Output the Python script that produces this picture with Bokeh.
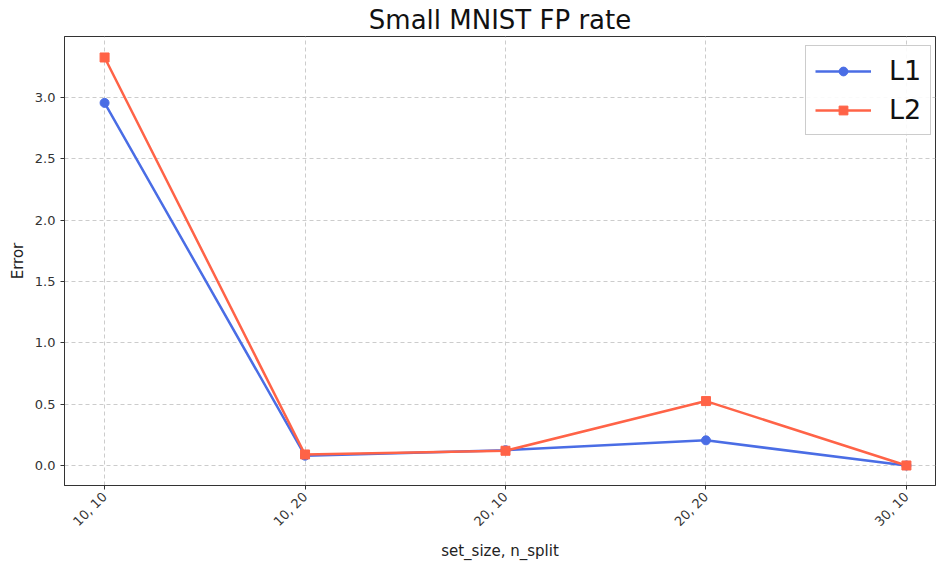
import math
from bokeh.plotting import figure
from bokeh.models import FixedTicker, Legend, LegendItem, Range1d, Title
from bokeh.embed import file_html
from bokeh.resources import INLINE

categories = ["10, 10", "10, 20", "20, 10", "20, 20", "30, 10"]
l1_values = [2.955, 0.08, 0.125, 0.205, 0.0]
l2_values = [3.325, 0.09, 0.12, 0.525, 0.0]
y_ticks = [0.0, 0.5, 1.0, 1.5, 2.0, 2.5, 3.0]

xs = list(range(len(categories)))
FONT = "DejaVu Sans"

p = figure(width=937, height=563, output_backend="svg", toolbar_location=None,
           x_range=Range1d(-0.2, 4.145), y_range=Range1d(-0.163, 3.496),
           min_border_left=64, min_border_right=2, min_border_top=35, min_border_bottom=78)
p.title = Title(text="Small MNIST FP rate", align="center", text_font=FONT,
                text_font_size="26px", text_font_style="normal", text_color="#111111",
                standoff=4)

p.xaxis.ticker = FixedTicker(ticks=xs)
p.xaxis.major_label_overrides = {i: c for i, c in enumerate(categories)}
p.xaxis.major_label_orientation = math.pi / 4
p.yaxis.ticker = FixedTicker(ticks=y_ticks)
p.yaxis.major_label_overrides = {t: f"{t:.1f}" for t in y_ticks}
p.xaxis.axis_label = "set_size, n_split"
p.yaxis.axis_label = "Error"
for ax in (p.xaxis, p.yaxis):
    ax.axis_label_text_font = FONT
    ax.axis_label_text_font_style = "normal"
    ax.axis_label_text_font_size = "15px"
    ax.axis_label_text_color = "#222222"
    ax.major_label_text_font = FONT
    ax.major_label_text_font_size = "13px"
    ax.major_label_text_color = "#333333"
    ax.minor_tick_line_color = None
    ax.major_tick_in = 0
    ax.major_tick_out = 4
    ax.axis_line_color = "#333333"
    ax.major_tick_line_color = "#333333"

p.outline_line_color = "#333333"
p.grid.grid_line_color = "#cccccc"
p.grid.grid_line_dash = "4 3"
p.grid.grid_line_width = 1

blue = "#4a6de5"
red = "#ff6347"
r1l = p.line(xs, l1_values, line_color=blue, line_width=2.5)
r1s = p.scatter(xs, l1_values, marker="circle", size=9, fill_color=blue, line_color=blue)
r2l = p.line(xs, l2_values, line_color=red, line_width=2.5)
r2s = p.scatter(xs, l2_values, marker="square", size=9, fill_color=red, line_color=red)

legend = Legend(items=[LegendItem(label="L1", renderers=[r1l, r1s]),
                       LegendItem(label="L2", renderers=[r2l, r2s])],
                location="top_right", label_text_font=FONT, label_text_font_size="27px",
                label_text_color="#111111", label_standoff=18,
                glyph_width=56, glyph_height=22, spacing=8, padding=9,
                border_line_color="#cccccc", border_line_alpha=1.0,
                background_fill_alpha=0.9, margin=0)
p.add_layout(legend)
legend.location = (741, 350)

open("out.html", "w").write(file_html(p, INLINE))
